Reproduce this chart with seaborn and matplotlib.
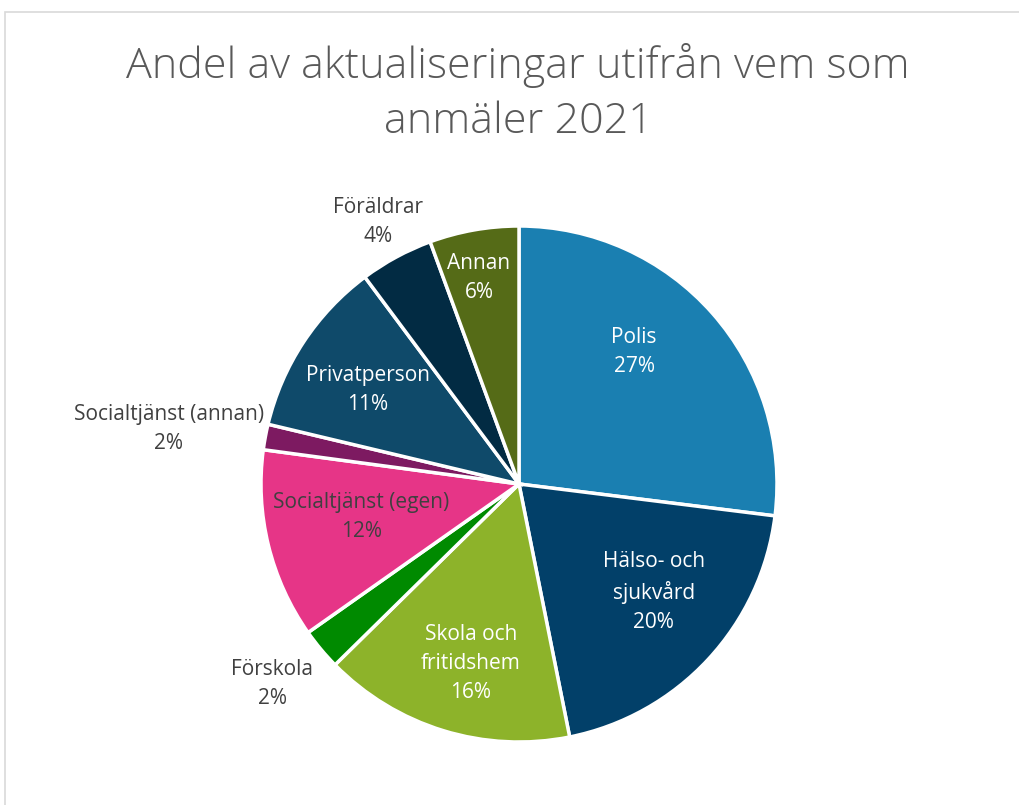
import matplotlib
matplotlib.use('Agg')
import matplotlib.pyplot as plt
import seaborn as sns
from matplotlib.patches import Rectangle

sns.set_theme(style='white')
plt.rcParams['font.family'] = ['Open Sans', 'DejaVu Sans']

# data (starting at 12 o'clock, clockwise)
categories = ['Polis', 'Hälso- och\nsjukvård', 'Skola och\nfritidshem', 'Förskola',
              'Socialtjänst (egen)', 'Socialtjänst (annan)', 'Privatperson',
              'Föräldrar', 'Annan']
shares = [27.0, 19.9, 15.8, 2.6, 11.9, 1.6, 11.1, 4.6, 5.6]
pct_labels = ['27%', '20%', '16%', '2%', '12%', '2%', '11%', '4%', '6%']

colors = ['#1a7fb1', '#024069', '#8db32a', '#008a00', '#e63587',
          '#7d1a61', '#0f4a6a', '#022b43', '#556b17']
text_colors = ['white', 'white', 'white', '#404040', '#404040',
               '#404040', 'white', '#404040', 'white']
# label anchor positions in units of the pie radius
label_pos = [(0.446, 0.512), (0.523, -0.419), (-0.186, -0.694), (-0.957, -0.775),
             (-0.612, -0.128), (-1.357, 0.213), (-0.585, 0.364), (-0.547, 1.016),
             (-0.155, 0.798)]

W, H = 1019, 805
fig = plt.figure(figsize=(W / 100, H / 100), dpi=100)
fig.patch.set_facecolor('white')

# light frame of the chart area
fig.patches.append(Rectangle((5 / W, -0.1), 1.2, 1 - 12 / H + 0.1, transform=fig.transFigure,
                             fill=False, edgecolor='#d9d9d9', linewidth=1.2))

cx, cy, R = 519, 484, 258
ax = fig.add_axes([(cx - R) / W, 1 - (cy + R) / H, 2 * R / W, 2 * R / H])
ax.pie(shares, colors=colors, startangle=90, counterclock=False,
       wedgeprops=dict(edgecolor='white', linewidth=2.5))
ax.set_xlim(-1, 1)
ax.set_ylim(-1, 1)
ax.set_aspect('equal')
ax.axis('off')

for cat, pct, (lx, ly), tc in zip(categories, pct_labels, label_pos, text_colors):
    ax.text(lx, ly, f'{cat}\n{pct}', ha='center', va='center', fontsize=15,
            color=tc, linespacing=1.5, clip_on=False)

fig.text(518 / W, 1 - 65 / H, 'Andel av aktualiseringar utifrån vem som',
         ha='center', va='center', fontsize=31, color='#595959', fontweight='light')
fig.text(518 / W, 1 - 122 / H, 'anmäler 2021',
         ha='center', va='center', fontsize=31, color='#595959', fontweight='light')

fig.savefig('out.png', dpi=100, facecolor='white')
